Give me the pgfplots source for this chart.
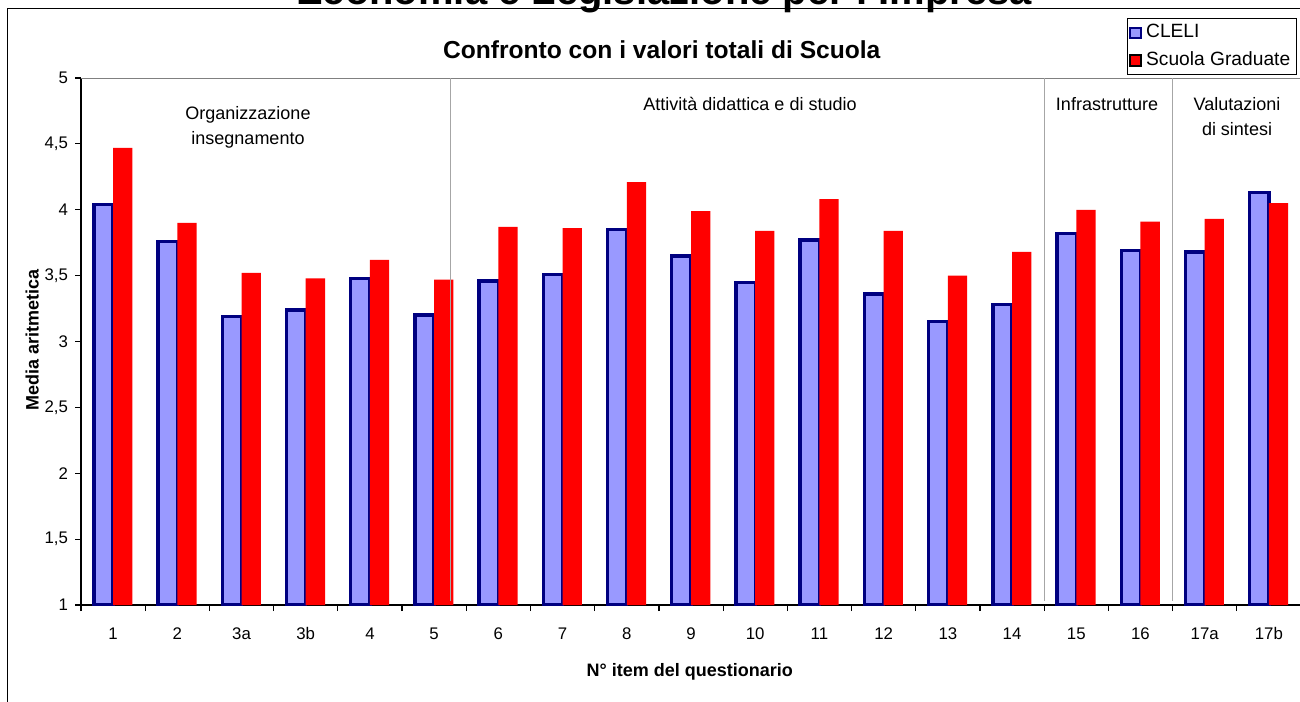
\documentclass[border=0pt]{standalone}
\usepackage{fontspec}
\setmainfont{Liberation Sans}
\usepackage{pgfplots}
\pgfplotsset{compat=1.18}
\definecolor{cleliFill}{HTML}{9999FF}
\definecolor{cleliEdge}{HTML}{000080}
\definecolor{scuola}{HTML}{FF0000}

\begin{document}
\begin{tikzpicture}
\begin{axis}[
  at={(40.5pt,-302.5pt)}, anchor=south west,
  scale only axis, width=610pt, height=263.5pt,
  xmin=-0.5, xmax=18.5, ymin=1, ymax=5,
  ybar=0pt, bar width=0.3,
  axis x line*=bottom, axis y line*=left,
  axis line style={black, line width=0.6pt},
  tick align=outside, major tick length=3pt,
  tick style={black, line width=0.6pt},
  xtick={-0.5,0.5,...,18.5},
  x tick label as interval,
  xticklabels={1,2,3a,3b,4,5,6,7,8,9,10,11,12,13,14,15,16,17a,17b},
  ytick={1,1.5,...,5},
  yticklabel style={/pgf/number format/.cd, fixed, use comma, precision=1},
  /pgf/number format/assume math mode=true,
  tick label style={font=\fontsize{8.4}{10}\selectfont},
  xticklabel style={yshift=-4.5pt, text height=6.2pt, text depth=0pt},
  xlabel={N° item del questionario},
  ylabel={Media aritmetica},
  xlabel style={at={(axis description cs:0.499,-0.127)}, anchor=center, font=\fontsize{9}{11}\selectfont\bfseries},
  ylabel style={at={(axis description cs:-0.040,0.503)}, anchor=center, font=\fontsize{9}{11}\selectfont\bfseries},
  title={Confronto con i valori totali di Scuola},
  title style={at={(axis description cs:0.476,1.030)}, anchor=center, font=\fontsize{12.3}{14}\selectfont\bfseries},
  legend style={at={(axis description cs:0.857,1.1140)}, anchor=north west,
    draw=black, line width=0.6pt, fill=white,
    font=\fontsize{9.6}{11.5}\selectfont, inner xsep=1pt, inner ysep=1pt,
    row sep=1.5pt, cells={anchor=west}},
  legend image code/.code={\draw[#1, line width=1pt] (0pt,-2.6pt) rectangle (5.5pt,2.6pt);},
]
\draw[gray, line width=1pt] (rel axis cs:0,1) -- (rel axis cs:1,1);

\addplot[fill=cleliFill, draw=cleliEdge, line width=1.7pt] coordinates {
  (0,4.04) (1,3.76) (2,3.19) (3,3.24) (4,3.48) (5,3.20) (6,3.46) (7,3.51)
  (8,3.85) (9,3.65) (10,3.45) (11,3.77) (12,3.36) (13,3.15) (14,3.28)
  (15,3.82) (16,3.69) (17,3.68) (18,4.13)
};
\addplot[fill=scuola, draw=none] coordinates {
  (0,4.47) (1,3.90) (2,3.52) (3,3.48) (4,3.62) (5,3.47) (6,3.87) (7,3.86)
  (8,4.21) (9,3.99) (10,3.84) (11,4.08) (12,3.84) (13,3.50) (14,3.68)
  (15,4.00) (16,3.91) (17,3.93) (18,4.05)
};
\addlegendentry{CLELI}
\addlegendentry{Scuola Graduate}

% separators between question groups
\draw[gray!70, line width=0.5pt] (axis cs:5.25,1.03) -- (axis cs:5.25,5);
\draw[gray!70, line width=0.5pt] (axis cs:14.5,1.03) -- (axis cs:14.5,5);
\draw[gray!70, line width=0.5pt] (axis cs:16.5,1.03) -- (axis cs:16.5,5);
\end{axis}

\begin{scope}[x=0.5pt, y=-0.5pt]
  \draw[black, line width=0.7pt] (7.5,710) -- (7.5,8.5) -- (1310,8.5);
  \node[anchor=base, font=\fontsize{20}{24}\selectfont\bfseries] at (664,5) {Economia e Legislazione per l'Impresa};
  \node[align=center, font=\fontsize{9}{12.5}\selectfont] at (248,127) {Organizzazione\\insegnamento};
  \node[font=\fontsize{9}{12.5}\selectfont] at (750,104) {Attività didattica e di studio};
  \node[font=\fontsize{9}{12.5}\selectfont] at (1107,104) {Infrastrutture};
  \node[align=center, font=\fontsize{9}{12.5}\selectfont] at (1237,117) {Valutazioni\\di sintesi};
  \pgfresetboundingbox
  \useasboundingbox (0,0) rectangle (1300,701);
\end{scope}
\end{tikzpicture}
\end{document}
